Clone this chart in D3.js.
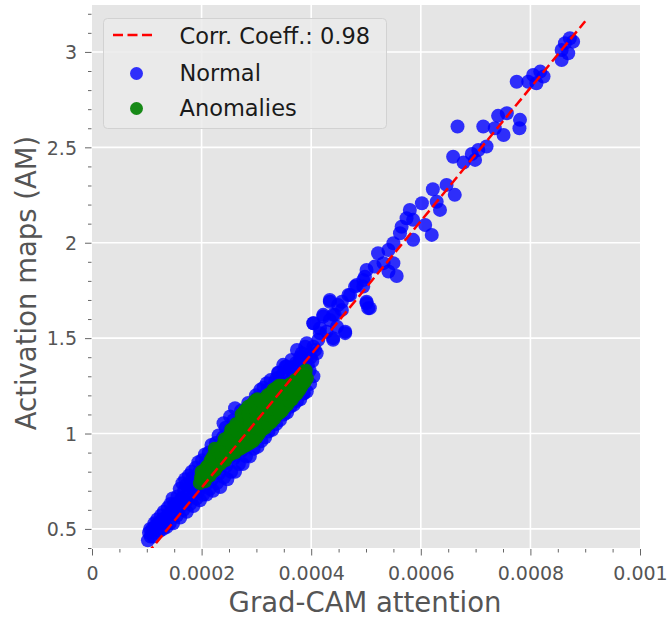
<!DOCTYPE html>
<html>
<head>
<meta charset="utf-8">
<script src="https://cdn.jsdelivr.net/npm/d3@7"></script>
<style>
  body { margin: 0; background: #fff; }
  svg { display: block; font-family: "DejaVu Sans", sans-serif; }
</style>
</head>
<body>
<div id="chart"></div>
<script>
// Normal samples (Grad-CAM attention, activation map)
var normalX = [
    1.02e-4, 1.04e-4, 1.12e-4, 1.10e-4, 1.14e-4, 1.24e-4, 1.22e-4, 1.26e-4, 1.36e-4, 1.34e-4, 1.38e-4, 1.48e-4, 1.46e-4, 1.50e-4, 1.47e-4,
    1.61e-4, 1.59e-4, 1.63e-4, 1.60e-4, 1.73e-4, 1.71e-4, 1.75e-4, 1.72e-4, 1.70e-4, 1.85e-4, 1.83e-4, 1.87e-4, 1.84e-4, 1.82e-4,
    1.97e-4, 1.95e-4, 1.99e-4, 1.96e-4, 1.94e-4, 2.09e-4, 2.07e-4, 2.11e-4, 2.08e-4, 2.06e-4, 2.21e-4, 2.19e-4, 2.23e-4, 2.20e-4, 2.18e-4,
    2.34e-4, 2.32e-4, 2.36e-4, 2.33e-4, 2.31e-4, 2.47e-4, 2.45e-4, 2.49e-4, 2.46e-4, 2.44e-4, 2.61e-4, 2.59e-4, 2.63e-4, 2.60e-4, 2.58e-4,
    2.75e-4, 2.73e-4, 2.77e-4, 2.74e-4, 2.72e-4, 2.88e-4, 2.86e-4, 2.90e-4, 2.87e-4, 2.85e-4, 3.02e-4, 3.00e-4, 3.04e-4, 3.01e-4, 2.99e-4,
    3.16e-4, 3.14e-4, 3.18e-4, 3.15e-4, 3.13e-4, 3.29e-4, 3.27e-4, 3.31e-4, 3.28e-4, 3.26e-4, 3.43e-4, 3.41e-4, 3.45e-4, 3.42e-4, 3.40e-4,
    3.56e-4, 3.54e-4, 3.58e-4, 3.55e-4, 3.53e-4, 3.68e-4, 3.66e-4, 3.70e-4, 3.67e-4, 3.80e-4, 3.78e-4, 3.82e-4, 3.79e-4, 3.92e-4, 3.90e-4, 3.94e-4, 4.04e-4, 4.02e-4,
    1.07e-4, 1.06e-4, 1.18e-4, 1.17e-4, 1.19e-4, 1.30e-4, 1.29e-4, 1.31e-4, 1.42e-4, 1.41e-4, 1.43e-4, 1.55e-4, 1.54e-4, 1.56e-4,
    1.67e-4, 1.66e-4, 1.68e-4, 1.65e-4, 1.79e-4, 1.78e-4, 1.80e-4, 1.77e-4, 1.91e-4, 1.90e-4, 1.92e-4, 1.89e-4,
    2.03e-4, 2.02e-4, 2.04e-4, 2.01e-4, 2.15e-4, 2.14e-4, 2.16e-4, 2.13e-4, 2.28e-4, 2.27e-4, 2.29e-4, 2.26e-4,
    2.41e-4, 2.40e-4, 2.42e-4, 2.39e-4, 2.54e-4, 2.53e-4, 2.55e-4, 2.52e-4, 2.68e-4, 2.67e-4, 2.69e-4, 2.66e-4,
    2.81e-4, 2.80e-4, 2.82e-4, 2.79e-4, 2.95e-4, 2.94e-4, 2.96e-4, 2.93e-4, 3.09e-4, 3.08e-4, 3.10e-4, 3.07e-4,
    3.22e-4, 3.21e-4, 3.23e-4, 3.20e-4, 3.36e-4, 3.35e-4, 3.37e-4, 3.34e-4, 3.50e-4, 3.49e-4, 3.51e-4, 3.48e-4,
    3.62e-4, 3.61e-4, 3.63e-4, 3.60e-4, 3.74e-4, 3.73e-4, 3.75e-4, 3.72e-4, 3.86e-4, 3.85e-4, 3.87e-4, 3.84e-4, 3.98e-4, 3.97e-4, 3.99e-4,
    2.52e-4, 2.61e-4, 2.40e-4,
    5.01e-4, 4.95e-4, 4.80e-4, 4.68e-4, 5.01e-4, 5.04e-4, 4.34e-4, 4.49e-4, 4.56e-4, 4.43e-4, 4.22e-4, 4.34e-4, 4.04e-4, 4.16e-4, 4.62e-4, 4.40e-4, 4.28e-4,
    4.13e-4, 4.04e-4, 4.10e-4, 3.89e-4, 3.74e-4, 3.80e-4, 3.95e-4, 3.64e-4, 3.55e-4, 3.40e-4, 3.49e-4, 3.37e-4, 3.19e-4, 3.07e-4, 3.01e-4, 3.86e-4,
    6.22e-4, 6.29e-4, 6.35e-4, 6.02e-4, 5.80e-4, 5.74e-4, 5.65e-4, 5.86e-4, 6.08e-4, 6.20e-4, 5.86e-4, 5.62e-4, 5.50e-4, 5.41e-4, 5.22e-4, 5.50e-4, 5.41e-4, 5.56e-4, 5.32e-4,
    5.16e-4, 4.98e-4, 4.95e-4, 4.83e-4, 5.01e-4, 5.07e-4, 4.71e-4, 4.56e-4, 4.34e-4, 4.62e-4, 4.40e-4, 4.47e-4, 4.22e-4, 4.04e-4, 4.16e-4, 4.40e-4, 3.92e-4, 4.07e-4, 3.83e-4,
    6.47e-4, 6.62e-4, 6.59e-4, 6.78e-4, 6.67e-4, 6.93e-4, 7.05e-4, 6.99e-4, 7.20e-4, 7.14e-4, 7.35e-4, 7.51e-4, 7.41e-4, 7.57e-4,
    7.81e-4, 7.80e-4, 7.75e-4, 7.96e-4, 8.05e-4, 8.18e-4, 8.24e-4, 8.11e-4, 8.57e-4, 8.63e-4, 8.78e-4, 8.69e-4, 8.57e-4, 8.72e-4
];
var normalY = [
    0.44, 0.48, 0.46, 0.50, 0.53, 0.49, 0.53, 0.57, 0.51, 0.56, 0.61, 0.53, 0.58, 0.63, 0.66,
    0.56, 0.61, 0.66, 0.71, 0.59, 0.64, 0.69, 0.73, 0.76, 0.62, 0.67, 0.72, 0.77, 0.80,
    0.65, 0.70, 0.75, 0.80, 0.85, 0.68, 0.73, 0.79, 0.85, 0.89, 0.70, 0.76, 0.82, 0.88, 0.94,
    0.72, 0.79, 0.86, 0.93, 0.99, 0.76, 0.83, 0.90, 0.97, 1.03, 0.80, 0.87, 0.94, 1.01, 1.07,
    0.84, 0.91, 0.98, 1.05, 1.12, 0.88, 0.95, 1.02, 1.09, 1.16, 0.93, 1.00, 1.07, 1.14, 1.20,
    0.98, 1.05, 1.12, 1.18, 1.24, 1.02, 1.09, 1.16, 1.22, 1.28, 1.07, 1.14, 1.21, 1.27, 1.32,
    1.11, 1.18, 1.25, 1.31, 1.35, 1.15, 1.22, 1.29, 1.35, 1.18, 1.25, 1.32, 1.38, 1.22, 1.29, 1.36, 1.30, 1.38,
    0.46, 0.50, 0.48, 0.52, 0.55, 0.50, 0.55, 0.59, 0.53, 0.58, 0.63, 0.57, 0.62, 0.67,
    0.60, 0.65, 0.70, 0.74, 0.63, 0.68, 0.73, 0.78, 0.66, 0.71, 0.77, 0.82,
    0.68, 0.74, 0.80, 0.86, 0.71, 0.77, 0.84, 0.90, 0.74, 0.81, 0.88, 0.95,
    0.77, 0.84, 0.91, 0.98, 0.80, 0.88, 0.95, 1.02, 0.84, 0.91, 0.99, 1.06,
    0.88, 0.95, 1.03, 1.10, 0.92, 1.00, 1.08, 1.15, 0.96, 1.04, 1.12, 1.19,
    1.01, 1.08, 1.16, 1.23, 1.05, 1.12, 1.20, 1.27, 1.10, 1.17, 1.24, 1.31,
    1.14, 1.21, 1.28, 1.34, 1.17, 1.24, 1.31, 1.37, 1.21, 1.28, 1.34, 1.40, 1.26, 1.33, 1.40,
    1.089, 1.133, 1.054,
    1.857, 1.805, 1.770, 1.726, 1.683, 1.657, 1.691, 1.674, 1.648, 1.622, 1.622, 1.595, 1.578, 1.552, 1.534, 1.500, 1.534,
    1.491, 1.455, 1.421, 1.455, 1.438, 1.403, 1.412, 1.386, 1.351, 1.316, 1.360, 1.290, 1.264, 1.229, 1.185, 1.211,
    2.280, 2.215, 2.172, 2.207, 2.172, 2.128, 2.084, 2.120, 2.093, 2.041, 2.015, 2.050, 1.997, 1.962, 1.945, 1.893, 1.849, 1.826, 1.893,
    1.875, 1.822, 1.770, 1.779, 1.691, 1.657, 1.726, 1.691, 1.700, 1.526, 1.622, 1.560, 1.613, 1.578, 1.526, 1.491, 1.473, 1.438, 1.421,
    2.303, 2.251, 2.451, 2.420, 2.609, 2.465, 2.486, 2.434, 2.504, 2.609, 2.600, 2.565, 2.665, 2.679,
    2.644, 2.600, 2.844, 2.844, 2.879, 2.897, 2.871, 2.836, 3.010, 3.046, 3.054, 2.993, 2.958, 3.072
];

// Anomalies
var anomalyX = [
    1.97e-4, 1.99e-4, 2.06e-4, 2.04e-4, 2.08e-4, 2.15e-4, 2.13e-4, 2.17e-4, 2.25e-4, 2.23e-4, 2.27e-4, 2.24e-4,
    2.34e-4, 2.32e-4, 2.36e-4, 2.43e-4, 2.41e-4, 2.45e-4, 2.42e-4, 2.52e-4, 2.50e-4, 2.54e-4, 2.51e-4,
    2.61e-4, 2.59e-4, 2.63e-4, 2.60e-4, 2.70e-4, 2.68e-4, 2.72e-4, 2.69e-4, 2.82e-4, 2.80e-4, 2.84e-4, 2.81e-4, 2.79e-4,
    2.94e-4, 2.92e-4, 2.96e-4, 2.93e-4, 2.91e-4, 3.05e-4, 3.03e-4, 3.07e-4, 3.04e-4, 3.02e-4,
    3.16e-4, 3.14e-4, 3.18e-4, 3.15e-4, 3.27e-4, 3.25e-4, 3.29e-4, 3.26e-4, 3.38e-4, 3.36e-4, 3.40e-4, 3.37e-4,
    3.47e-4, 3.45e-4, 3.49e-4, 3.46e-4, 3.56e-4, 3.54e-4, 3.58e-4, 3.65e-4, 3.63e-4, 3.67e-4,
    3.74e-4, 3.72e-4, 3.76e-4, 3.83e-4, 3.81e-4, 3.85e-4, 3.92e-4, 3.90e-4,
    2.01e-4, 2.00e-4, 2.10e-4, 2.11e-4, 2.20e-4, 2.19e-4, 2.21e-4, 2.29e-4, 2.28e-4, 2.30e-4, 2.38e-4, 2.37e-4, 2.39e-4,
    2.47e-4, 2.46e-4, 2.48e-4, 2.56e-4, 2.55e-4, 2.57e-4, 2.54e-4, 2.65e-4, 2.64e-4, 2.66e-4, 2.63e-4,
    2.76e-4, 2.75e-4, 2.77e-4, 2.74e-4, 2.73e-4, 2.88e-4, 2.87e-4, 2.89e-4, 2.86e-4, 2.85e-4, 3.00e-4, 2.99e-4, 3.01e-4, 2.98e-4, 2.97e-4,
    3.10e-4, 3.09e-4, 3.11e-4, 3.08e-4, 3.22e-4, 3.21e-4, 3.23e-4, 3.20e-4, 3.33e-4, 3.32e-4, 3.34e-4, 3.31e-4,
    3.43e-4, 3.42e-4, 3.44e-4, 3.41e-4, 3.52e-4, 3.51e-4, 3.53e-4, 3.61e-4, 3.60e-4, 3.62e-4,
    3.70e-4, 3.69e-4, 3.71e-4, 3.79e-4, 3.78e-4, 3.80e-4, 3.88e-4, 3.87e-4
];
var anomalyY = [
    0.74, 0.77, 0.75, 0.79, 0.82, 0.78, 0.82, 0.86, 0.81, 0.85, 0.89, 0.92,
    0.84, 0.88, 0.92, 0.86, 0.90, 0.94, 0.97, 0.89, 0.93, 0.97, 0.99,
    0.90, 0.95, 0.99, 1.03, 0.92, 0.97, 1.01, 1.05, 0.94, 0.99, 1.04, 1.09, 1.12,
    0.96, 1.01, 1.06, 1.11, 1.15, 1.00, 1.05, 1.10, 1.15, 1.18,
    1.03, 1.08, 1.13, 1.18, 1.06, 1.11, 1.16, 1.21, 1.10, 1.15, 1.20, 1.24,
    1.12, 1.17, 1.22, 1.25, 1.15, 1.20, 1.25, 1.18, 1.22, 1.26,
    1.21, 1.25, 1.28, 1.25, 1.29, 1.31, 1.29, 1.33,
    0.76, 0.80, 0.79, 0.83, 0.80, 0.84, 0.88, 0.83, 0.87, 0.91, 0.86, 0.90, 0.94,
    0.88, 0.92, 0.96, 0.91, 0.95, 0.99, 1.02, 0.92, 0.97, 1.01, 1.05,
    0.93, 0.98, 1.03, 1.07, 1.10, 0.95, 1.00, 1.05, 1.10, 1.14, 0.98, 1.03, 1.08, 1.13, 1.17,
    1.02, 1.07, 1.12, 1.17, 1.05, 1.10, 1.15, 1.20, 1.08, 1.13, 1.18, 1.23,
    1.11, 1.16, 1.21, 1.25, 1.14, 1.19, 1.24, 1.17, 1.21, 1.26,
    1.20, 1.24, 1.28, 1.23, 1.27, 1.30, 1.27, 1.31
];

// Fitted line (end points)
var fitX = [0.0001, 0.0009];
var fitY = [0.367, 3.161];

var xTicks = [0, 0.0002, 0.0004, 0.0006, 0.0008, 0.001];
var xTickLabels = ["0", "0.0002", "0.0004", "0.0006", "0.0008", "0.001"];
var yTicks = [0.5, 1, 1.5, 2, 2.5, 3];
var yTickLabels = ["0.5", "1", "1.5", "2", "2.5", "3"];
var legendLabels = ["Corr. Coeff.: 0.98", "Normal", "Anomalies"];

function init() {
    var w = 668;
    var h = 620;
    var left = 92, right = 640, top = 5, bottom = 548;

    var svg = d3.select("#chart")
        .append("svg")
        .attr("width", w)
        .attr("height", h);

    var x = d3.scaleLinear().domain([0, 0.001]).range([left, right]);
    var y = d3.scaleLinear().domain([0.40, 3.246]).range([bottom, top]);

    // Plot background
    svg.append("rect")
        .attr("x", left).attr("y", top)
        .attr("width", right - left).attr("height", bottom - top)
        .attr("fill", "#e5e5e5");

    svg.append("clipPath").attr("id", "plotclip")
        .append("rect")
        .attr("x", left).attr("y", top)
        .attr("width", right - left).attr("height", bottom - top);

    // Grid lines
    svg.append("g").selectAll("line")
        .data(xTicks.filter(d => d > 0 && d < 0.001))
        .enter().append("line")
        .attr("x1", d => x(d)).attr("x2", d => x(d))
        .attr("y1", top).attr("y2", bottom)
        .attr("stroke", "#fff").attr("stroke-width", 1.6);
    svg.append("g").selectAll("line")
        .data(yTicks)
        .enter().append("line")
        .attr("x1", left).attr("x2", right)
        .attr("y1", d => y(d)).attr("y2", d => y(d))
        .attr("stroke", "#fff").attr("stroke-width", 1.6);

    // Minor ticks
    var xMinor = d3.range(0, 0.001 + 1e-9, 0.00005).filter(v => xTicks.every(t => Math.abs(t - v) > 1e-9));
    var yMinor = d3.range(0.4, 3.25, 0.1).filter(v => yTicks.every(t => Math.abs(t - v) > 1e-6));

    svg.append("g")
        .attr("transform", `translate(0,${bottom + 1})`)
        .call(d3.axisBottom(x).tickValues(xMinor).tickSize(3.5).tickFormat(""))
        .call(g => g.select(".domain").remove())
        .selectAll("line").attr("stroke", "#666");

    svg.append("g")
        .attr("transform", `translate(${left - 0.5},0)`)
        .call(d3.axisLeft(y).tickValues(yMinor).tickSize(3.5).tickFormat(""))
        .call(g => g.select(".domain").remove())
        .selectAll("line").attr("stroke", "#666");

    // Major axes
    var xAxis = svg.append("g")
        .attr("transform", `translate(0,${bottom + 1})`)
        .call(d3.axisBottom(x).tickValues(xTicks).tickSize(6.5)
            .tickFormat((d, i) => xTickLabels[i]))
        .call(g => g.select(".domain").remove());
    xAxis.selectAll("line").attr("stroke", "#666");
    xAxis.selectAll("text")
        .attr("y", 30.5).attr("dy", 0)
        .attr("fill", "#555")
        .style("font-size", "19px")
        .style("font-family", "DejaVu Sans, sans-serif");

    var yAxis = svg.append("g")
        .attr("transform", `translate(${left - 0.5},0)`)
        .call(d3.axisLeft(y).tickValues(yTicks).tickSize(6.5)
            .tickFormat((d, i) => yTickLabels[i]))
        .call(g => g.select(".domain").remove());
    yAxis.selectAll("line").attr("stroke", "#666");
    yAxis.selectAll("text")
        .attr("x", -14.5).attr("dy", "0.36em")
        .attr("fill", "#555")
        .style("font-size", "19px")
        .style("font-family", "DejaVu Sans, sans-serif");

    // Axis titles
    svg.append("text")
        .attr("x", (left + right) / 2 - 1).attr("y", 612)
        .attr("text-anchor", "middle")
        .attr("fill", "#555")
        .style("font-size", "27.5px")
        .text("Grad-CAM attention");

    svg.append("text")
        .attr("transform", "translate(36,283) rotate(-90)")
        .attr("text-anchor", "middle")
        .attr("fill", "#555")
        .style("font-size", "27.5px")
        .text("Activation maps (AM)");

    var plot = svg.append("g").attr("clip-path", "url(#plotclip)");

    // Normal points
    var normal = normalX.map((v, i) => ({ x: v, y: normalY[i] }));
    plot.append("g").selectAll("circle")
        .data(normal)
        .enter().append("circle")
        .attr("cx", d => x(d.x))
        .attr("cy", d => y(d.y))
        .attr("r", 7)
        .attr("fill", "#0000ff")
        .attr("fill-opacity", 0.8);

    // Anomaly points
    var anomaly = anomalyX.map((v, i) => ({ x: v, y: anomalyY[i] }));
    plot.append("g").selectAll("circle")
        .data(anomaly)
        .enter().append("circle")
        .attr("cx", d => x(d.x))
        .attr("cy", d => y(d.y))
        .attr("r", 7)
        .attr("fill", "#008000")
        .attr("fill-opacity", 0.9);

    // Correlation line
    plot.append("path")
        .datum(fitX.map((v, i) => [v, fitY[i]]))
        .attr("d", d3.line().x(d => x(d[0])).y(d => y(d[1])))
        .attr("fill", "none")
        .attr("stroke", "#ff0000")
        .attr("stroke-width", 2.5)
        .attr("stroke-dasharray", "10,4.5");

    // Legend
    var lg = svg.append("g");
    lg.append("rect")
        .attr("x", 103.5).attr("y", 18.5)
        .attr("width", 283).attr("height", 110)
        .attr("rx", 4)
        .attr("fill", "#ebebeb").attr("fill-opacity", 0.85)
        .attr("stroke", "#d2d2d2").attr("stroke-width", 1);

    lg.append("line")
        .attr("x1", 113).attr("x2", 156)
        .attr("y1", 35).attr("y2", 35)
        .attr("stroke", "#ff0000").attr("stroke-width", 2.5)
        .attr("stroke-dasharray", "10,4.5");
    lg.append("circle")
        .attr("cx", 136.5).attr("cy", 73.5).attr("r", 6.5)
        .attr("fill", "#0000ff").attr("fill-opacity", 0.8);
    lg.append("circle")
        .attr("cx", 136.5).attr("cy", 108.5).attr("r", 6.5)
        .attr("fill", "#008000").attr("fill-opacity", 0.9);

    var rowBase = [44, 81, 116];
    lg.selectAll("text.lab")
        .data(legendLabels)
        .enter().append("text")
        .attr("class", "lab")
        .attr("x", 179.5)
        .attr("y", (d, i) => rowBase[i])
        .attr("fill", "#1a1a1a")
        .style("font-size", "22.5px")
        .text(d => d);
}

window.onload = init;
</script>
</body>
</html>
